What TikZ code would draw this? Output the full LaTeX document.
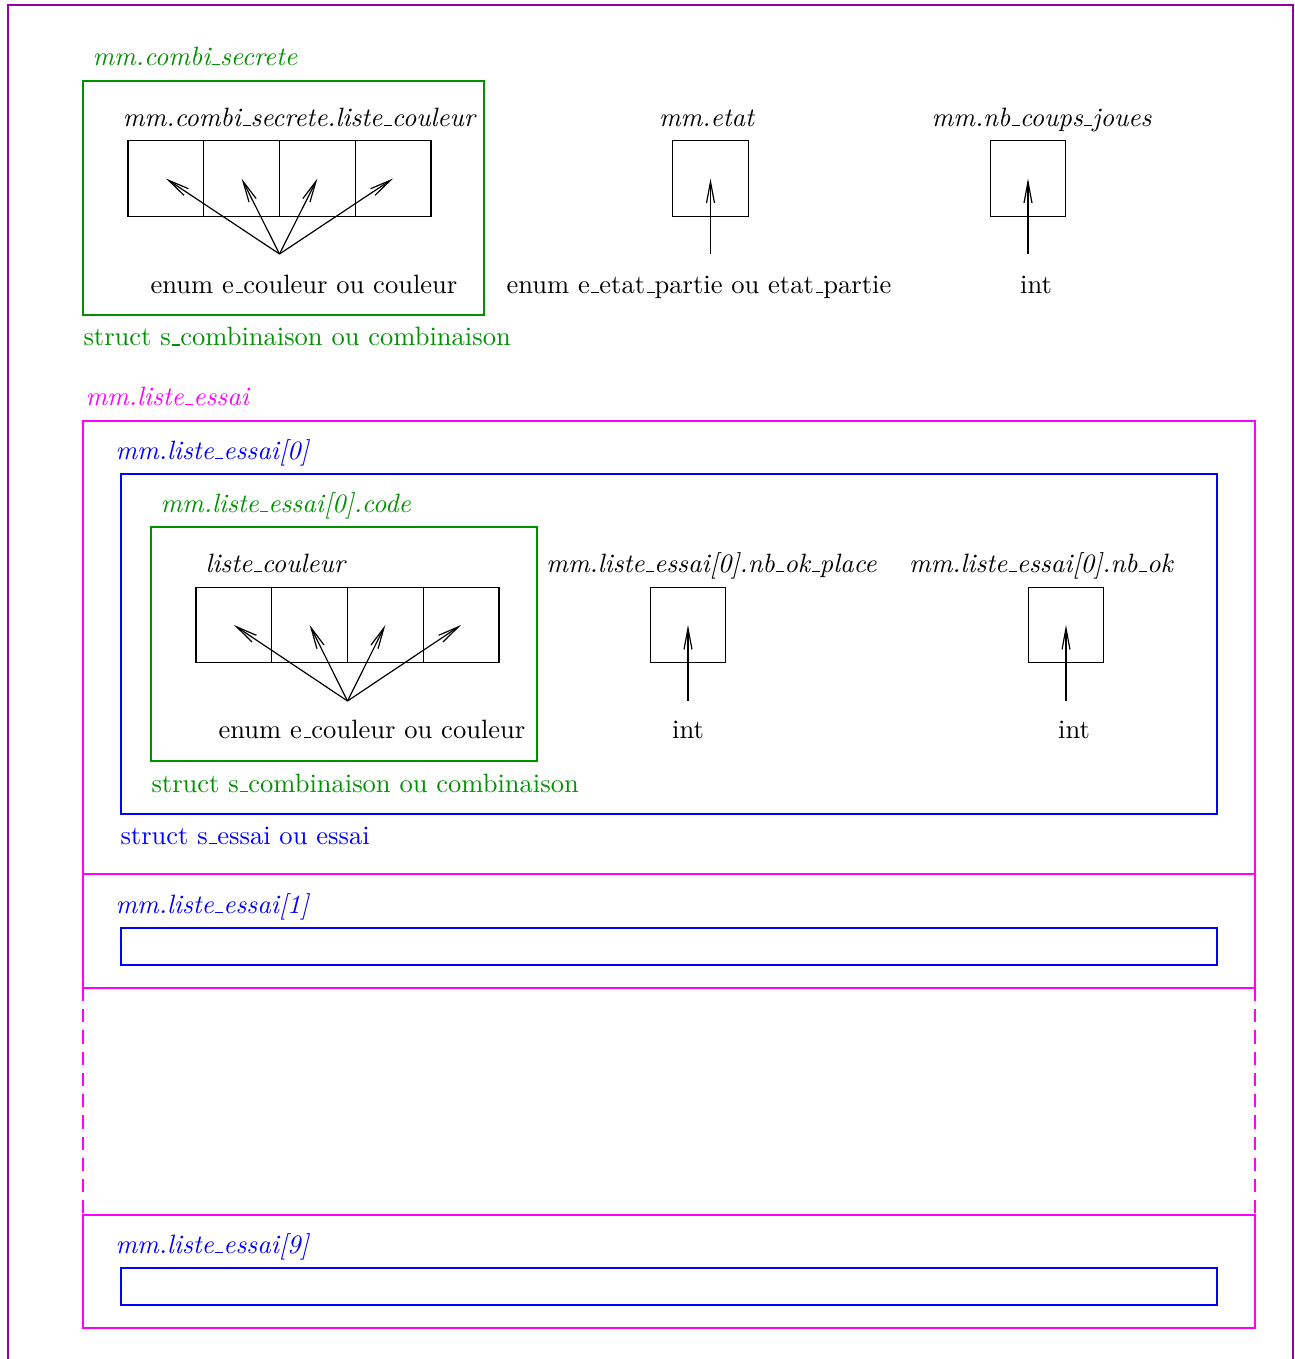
\documentclass[tikz,border=0pt]{standalone}
\usetikzlibrary{arrows.meta}
\definecolor{outerpurple}{RGB}{150,0,160}
\definecolor{mgreen}{RGB}{0,145,0}
\definecolor{mmag}{RGB}{255,0,255}
\definecolor{mblue}{RGB}{0,0,255}
\newcommand{\usc}{\leavevmode\kern.06em\vbox{\hrule width.3em}}
\begin{document}
\begin{tikzpicture}[x=0.377pt,y=-0.377pt,
  cell/.style={draw,line width=0.45pt,minimum width=28.56pt,minimum height=28.56pt,inner sep=0pt,outer sep=0pt},
  arr/.style={line width=0.45pt,-{Straight Barb[length=8pt,width=3pt]}},
  lbl/.style={inner sep=0pt,anchor=base},
  lblw/.style={inner sep=0pt,anchor=base west},
  itl/.style={font=\itshape},
  outerline/.style={draw=outerpurple,line width=1pt},
  gbox/.style={draw=mgreen,line width=0.8pt},
  mbox/.style={draw=mmag,line width=0.8pt},
  bbox/.style={draw=mblue,line width=0.8pt},
  mdash/.style={draw=mmag,line width=0.8pt,dash pattern=on 5pt off 3pt}]
\useasboundingbox (0,0) rectangle (1295,1359);

% outer frame
\draw[outerline] (8,1359) -- (8,5) -- (1293,5) -- (1293,1359);

% ---------- top: mm.combi_secrete ----------
\node[lblw,itl,text=mgreen] (lcombi) at (92,65) {mm.combi\usc secrete};
\draw[gbox] (83,81) rectangle (484,315);
\node[lbl,itl] (llc) at (299,126) {mm.combi\usc secrete.liste\usc couleur};
\foreach \i in {0,1,2,3} {
  \node[cell] (a\i) at ({128+75.75*(\i+0.5)},178.5) {};
}
\coordinate (sa) at (279.5,254);
\foreach \i in {0,1,2,3} { \draw[arr] (sa) -- (a\i.center); }
\node[lbl] (ta) at (304,293) {enum e\usc couleur ou couleur};
\node[lblw,text=mgreen] (tsa) at (83,345.5) {struct s\usc combinaison ou combinaison};

% mm.etat
\node[lbl,itl] (letat) at (706.5,126) {mm.etat};
\node[cell] (etat) at (710.5,178.5) {};
\coordinate (setat) at (710.5,254);
\draw[arr] (setat) -- (etat.center);
\node[lbl] (tetat) at (699,293) {enum e\usc etat\usc partie ou etat\usc partie};

% mm.nb_coups_joues
\node[lbl,itl] (lnbc) at (1041.5,126) {mm.nb\usc coups\usc joues};
\node[cell] (nbc) at (1028,178.5) {};
\coordinate (snbc) at (1028,254);
\draw[arr] (snbc) -- (nbc.center);
\node[lbl] (tnbc) at (1036,293) {int};

% ---------- mm.liste_essai ----------
\node[lblw,itl,text=mmag] (lle) at (85,405) {mm.liste\usc essai};
\draw[mbox] (83,421) rectangle (1255,874);
\draw[mbox] (83,874) rectangle (1255,988);
\draw[mdash] (83,988) -- (83,1215);
\draw[mdash] (1255,988) -- (1255,1215);
\draw[mbox] (83,1215) rectangle (1255,1328);

% element 0
\node[lblw,itl,text=mblue] (le0) at (115,459) {mm.liste\usc essai[0]};
\draw[bbox] (121,474) rectangle (1217,814);
\node[lblw,itl,text=mgreen] (lcode) at (160,512) {mm.liste\usc essai[0].code};
\draw[gbox] (151,527) rectangle (537,761);
\node[lblw,itl] (llc2) at (205,572) {liste\usc couleur};
\foreach \i in {0,1,2,3} {
  \node[cell] (b\i) at ({196+75.75*(\i+0.5)},625) {};
}
\coordinate (sb) at (347.5,701);
\foreach \i in {0,1,2,3} { \draw[arr] (sb) -- (b\i.center); }
\node[lbl] (tb) at (372,738) {enum e\usc couleur ou couleur};
\node[lblw,text=mgreen] (tsb) at (151,792) {struct s\usc combinaison ou combinaison};

\node[lbl,itl] (lokp) at (711.5,572) {mm.liste\usc essai[0].nb\usc ok\usc place};
\node[cell] (okp) at (688,625) {};
\coordinate (sokp) at (688,701);
\draw[arr] (sokp) -- (okp.center);
\node[lbl] (tokp) at (688,738) {int};

\node[lbl,itl] (lok) at (1041,572) {mm.liste\usc essai[0].nb\usc ok};
\node[cell] (ok) at (1066,625) {};
\coordinate (sok) at (1066,701);
\draw[arr] (sok) -- (ok.center);
\node[lbl] (tok) at (1074,738) {int};

\node[lblw,text=mblue] (tse) at (120,844) {struct s\usc essai ou essai};

% element 1
\node[lblw,itl,text=mblue] (le1) at (115,913) {mm.liste\usc essai[1]};
\draw[bbox] (121,928) rectangle (1217,965);

% element 9
\node[lblw,itl,text=mblue] (le9) at (115,1253) {mm.liste\usc essai[9]};
\draw[bbox] (121,1268) rectangle (1217,1305);
\end{tikzpicture}
\end{document}
